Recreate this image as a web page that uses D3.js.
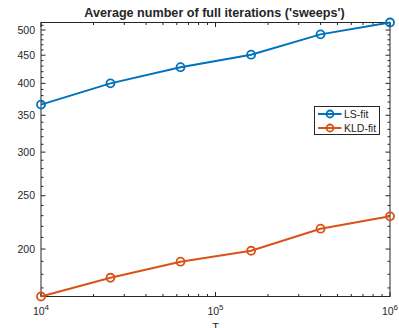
<!DOCTYPE html>
<html>
<head>
<meta charset="utf-8">
<script src="https://cdn.jsdelivr.net/npm/d3@7"></script>
<style>
body { margin: 0; background: #fff; }
text { font-family: "Liberation Sans", Arial, sans-serif; fill: #262626; }
</style>
</head>
<body>
<svg width="399" height="328"></svg>
<script>
var tValues = [1e4, 2.5e4, 6.3e4, 1.6e5, 4e5, 1e6];
var lsFit = [366, 400, 428, 451, 491, 516];
var kldFit = [164, 177.4, 189.7, 198.6, 217.8, 229.4];
var yTicks = [200, 250, 300, 350, 400, 450, 500];
var seriesNames = ["LS-fit", "KLD-fit"];
var colors = ["#0072BD", "#D95319"];

var svg = d3.select("svg");
var margin = { left: 41, right: 9, top: 22.5, bottom: 31.5 };
var width = 399 - margin.left - margin.right,
    height = 328 - margin.top - margin.bottom;

var g = svg.append("g").attr("transform", "translate(" + margin.left + "," + margin.top + ")");

var x = d3.scaleLog().domain([1e4, 1e6]).range([0, width]);
var y = d3.scaleLog().domain([d3.min(kldFit), d3.max(lsFit)]).range([height, 0]);

var axisColor = "#262626";

// minor ticks
var xMinor = [];
[1e4, 1e5].forEach(function(b) { for (var k = 2; k <= 9; k++) xMinor.push(b * k); });
var yMinor = d3.range(170, 516, 10).filter(function(v) { return v % 50 !== 0; });

function tickLines(vals, scale, isX, len) {
    vals.forEach(function(v) {
        var p = scale(v);
        if (isX) {
            g.append("line").attr("x1", p).attr("x2", p).attr("y1", height).attr("y2", height - len).attr("stroke", axisColor);
            g.append("line").attr("x1", p).attr("x2", p).attr("y1", 0).attr("y2", len).attr("stroke", axisColor);
        } else {
            g.append("line").attr("y1", p).attr("y2", p).attr("x1", 0).attr("x2", len).attr("stroke", axisColor);
            g.append("line").attr("y1", p).attr("y2", p).attr("x1", width).attr("x2", width - len).attr("stroke", axisColor);
        }
    });
}
tickLines(xMinor, x, true, 2.5);
tickLines([1e4, 1e5, 1e6], x, true, 4.5);
tickLines(yMinor, y, false, 2.5);
tickLines(yTicks, y, false, 4.5);

g.append("rect").attr("width", width).attr("height", height)
    .attr("fill", "none").attr("stroke", axisColor).attr("stroke-width", 1);

// y labels
g.selectAll(".ylab").data(yTicks).enter().append("text")
    .attr("x", -6).attr("y", function(d) { return y(d); })
    .attr("dy", "0.35em").attr("text-anchor", "end")
    .attr("font-size", 10.5).text(function(d) { return d; });

// x labels
[4, 5, 6].forEach(function(e) {
    var t = g.append("text").attr("x", x(Math.pow(10, e))).attr("y", height + 18.5)
        .attr("text-anchor", "middle").attr("font-size", 10.5);
    t.append("tspan").text("10");
    t.append("tspan").attr("dy", -5).attr("font-size", 8).text(e);
});

g.append("text").attr("x", width / 2).attr("y", height + 34)
    .attr("text-anchor", "middle").attr("font-size", 11).text("T");

svg.append("text").attr("x", margin.left + width / 2 - 1).attr("y", 17)
    .attr("text-anchor", "middle").attr("font-size", 12.6).attr("font-weight", "bold")
    .text("Average number of full iterations ('sweeps')");

var line = d3.line().x(function(d) { return x(d[0]); }).y(function(d) { return y(d[1]); });

[lsFit, kldFit].forEach(function(s, i) {
    var pts = tValues.map(function(t, j) { return [t, s[j]]; });
    g.append("path").datum(pts).attr("d", line).attr("fill", "none")
        .attr("stroke", colors[i]).attr("stroke-width", 2);
    g.selectAll(".m" + i).data(pts).enter().append("circle")
        .attr("cx", function(d) { return x(d[0]); })
        .attr("cy", function(d) { return y(d[1]); })
        .attr("r", 4).attr("fill", "none")
        .attr("stroke", colors[i]).attr("stroke-width", 1.8);
});

// legend
var lg = svg.append("g").attr("transform", "translate(314.5,106.5)");
lg.append("rect").attr("width", 65).attr("height", 28)
    .attr("fill", "#fff").attr("stroke", axisColor).attr("stroke-width", 1);
seriesNames.forEach(function(name, i) {
    var yy = 7.5 + i * 14;
    lg.append("line").attr("x1", 3.5).attr("x2", 27).attr("y1", yy).attr("y2", yy)
        .attr("stroke", colors[i]).attr("stroke-width", 2);
    lg.append("circle").attr("cx", 15.5).attr("cy", yy).attr("r", 3.5)
        .attr("fill", "none").attr("stroke", colors[i]).attr("stroke-width", 1.8);
    lg.append("text").attr("x", 29.5).attr("y", yy).attr("dy", "0.35em")
        .attr("font-size", 10.5).text(name);
});
</script>
</body>
</html>
